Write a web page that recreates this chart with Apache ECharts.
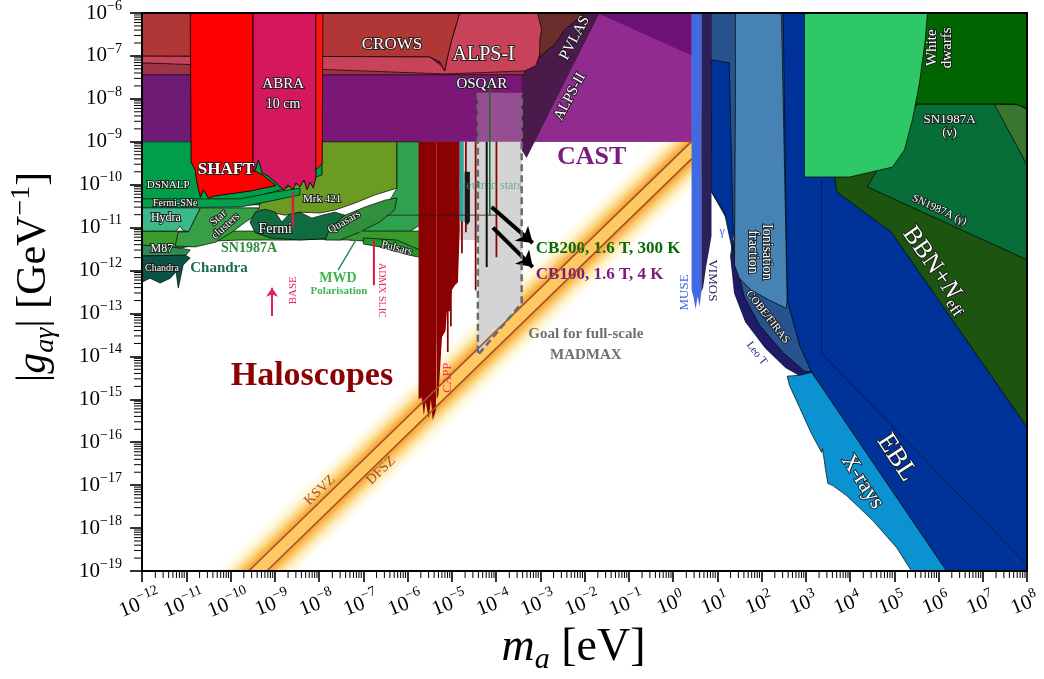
<!DOCTYPE html>
<html>
<head>
<meta charset="utf-8">
<script src="https://cdn.jsdelivr.net/npm/echarts/dist/echarts.min.js"></script>
<style>
  html, body { margin: 0; padding: 0; background: #fff; }
  #chart { width: 1044px; height: 679px; }
</style>
</head>
<body>
<div id="chart"></div>
<script>
const FONT = 'Liberation Serif';

// All coordinates are [log10(m_a / eV), log10(|g_ag| / GeV^-1)]
const M_RANGE = [-12, 8];
const G_RANGE = [-19, -6];

// ---------- helioscopes / light-shining-through-walls ----------
const CAST_BASE = [[-12,-9],[0.42,-9],[0.42,-6],[-12,-6]];
const CAST_MID = [[-7.93,-9],[-3.42,-9],[-3.42,-7.44],[-7.93,-7.44]];
const CAST_HI = [[-3.15,-9],[-1.66,-6],[0.42,-6],[0.42,-9]];
const CAST_TOP = [[-1.71,-6],[0.42,-6],[0.42,-6.99]];
const ALPS_II = [[-3.42,-7.44],[-2.90,-6.0],[-1.66,-6.0],[-3.31,-9.38],[-3.42,-9.19]];
const OSQAR = [[-12,-7.16],[-3.35,-7.16],[-3.35,-7.44],[-12,-7.44]];
const ALPS_I = [[-12,-7.0],[-5.50,-7.02],[-5.23,-7.23],[-5.16,-7.35],[-5.11,-7.09],[-5.0,-6.62],[-4.82,-6.0],[-2.83,-6.0],[-2.95,-6.39],[-3.01,-6.97],[-3.10,-7.23],[-3.35,-7.35],[-5.16,-7.42],[-12,-7.16]];
const CROWS = [[-12,-6],[-4.82,-6],[-5.0,-6.62],[-5.11,-7.09],[-5.16,-7.35],[-5.27,-7.14],[-5.50,-7.02],[-12,-7.0]];
const PVLAS = [[-3.06,-6],[-2.0,-6],[-2.22,-6.2],[-2.45,-6.39],[-2.56,-6.57],[-2.67,-6.74],[-2.83,-6.86],[-2.95,-6.97],[-3.01,-7.04],[-3.01,-6.62],[-2.97,-6.39]];

// ---------- low-mass haloscopes ----------
const SHAFT = [[-10.91,-6],[-9.49,-6],[-9.49,-9.66],[-9.28,-9.77],[-8.97,-10.02],[-9.56,-10.15],[-10.34,-10.26],[-10.50,-10.31],[-10.61,-10.12],[-10.68,-10.29],[-10.75,-10.0],[-10.80,-9.66],[-10.89,-9.47]];
const ABRA = [[-9.49,-6],[-8.07,-6],[-8.07,-9.84],[-8.13,-10.08],[-8.20,-9.94],[-8.27,-10.12],[-8.34,-9.89],[-8.43,-10.05],[-8.52,-9.96],[-8.59,-10.12],[-8.70,-10.0],[-8.79,-10.12],[-8.88,-10.05],[-8.99,-9.94],[-9.15,-9.80],[-9.28,-9.73],[-9.37,-9.42],[-9.44,-9.66],[-9.49,-9.70]];
const ABRA_RED = [[-8.07,-6],[-7.91,-6],[-7.93,-9.50],[-8.07,-9.66]];

// ---------- astrophysical bounds, low mass ----------
const DSNALP = [[-12,-9],[-7.93,-9],[-7.93,-10.47],[-12,-10.47]];
const MRK421 = [[-7.93,-9],[-6.24,-9],[-6.24,-10.08],[-6.74,-10.24],[-7.19,-10.43],[-7.64,-10.59],[-7.98,-10.66],[-8.43,-10.64],[-8.77,-10.71],[-9.10,-10.64],[-9.37,-10.59],[-9.28,-10.24],[-8.88,-10.12],[-7.93,-9.77]];
const HAWC = [[-6.24,-9],[-5.72,-9],[-5.72,-10.94],[-6.06,-11.17],[-6.63,-11.29],[-7.30,-11.29],[-7.52,-11.17],[-7.30,-10.87],[-6.74,-10.59],[-6.40,-10.36],[-6.24,-10.08]];
const SN1987A_BAND = [[-12,-11.08],[-5.72,-11.08],[-5.72,-11.52],[-6.18,-11.43],[-6.63,-11.34],[-7.30,-11.29],[-7.98,-11.27],[-8.66,-11.29],[-9.33,-11.29],[-9.78,-11.29],[-10.34,-11.31],[-10.68,-11.38],[-11.14,-11.48],[-11.48,-11.45],[-12,-11.41]];
const FERMI_SNE = [[-12,-10.33],[-9.78,-10.33],[-8.99,-10.17],[-8.43,-10.08],[-8.43,-10.24],[-9.33,-10.43],[-9.78,-10.52],[-12,-10.54]];
const HYDRA = [[-12,-10.54],[-10.68,-10.54],[-10.87,-10.94],[-10.95,-11.10],[-11.09,-11.05],[-11.14,-10.96],[-11.23,-11.08],[-12,-11.08]];
const STAR_CLUSTERS = [[-10.68,-10.54],[-9.37,-10.54],[-9.42,-10.71],[-9.66,-10.87],[-9.96,-11.10],[-10.34,-11.34],[-10.80,-11.45],[-11.25,-11.43],[-11.18,-11.10],[-10.95,-11.10],[-10.87,-10.94]];
const FERMI = [[-9.44,-10.64],[-9.22,-10.57],[-8.99,-10.64],[-8.84,-10.87],[-8.70,-10.71],[-8.43,-10.64],[-8.16,-10.78],[-7.93,-10.71],[-7.64,-10.64],[-7.41,-10.71],[-7.30,-11.01],[-7.52,-11.24],[-8.43,-11.29],[-9.10,-11.24],[-9.44,-11.12],[-9.56,-10.87]];
const QUASARS = [[-7.75,-11.01],[-7.41,-10.71],[-6.96,-10.52],[-6.51,-10.36],[-6.24,-10.31],[-6.29,-10.59],[-6.63,-10.87],[-7.07,-11.10],[-7.52,-11.29],[-7.86,-11.29]];
const PULSARS = [[-7.0,-11.24],[-6.24,-11.29],[-5.88,-11.45],[-5.72,-11.52],[-5.72,-11.69],[-5.88,-11.66],[-6.24,-11.52],[-7.0,-11.38]];
const M87 = [[-12,-11.41],[-11.48,-11.43],[-11.14,-11.48],[-10.91,-11.52],[-11.02,-11.66],[-12,-11.66]];
const CHANDRA = [[-12,-11.66],[-11.02,-11.64],[-10.91,-11.71],[-11.07,-11.87],[-11.18,-12.41],[-11.23,-12.03],[-11.36,-12.18],[-11.59,-12.29],[-11.82,-12.18],[-12,-12.27]];

// ---------- cavity haloscopes and MADMAX ----------
const NS_GRAY = [[-4.82,-9],[-3.42,-9],[-3.42,-12.76],[-4.41,-13.97],[-4.41,-11.29],[-4.82,-11.29]];
const MADMAX_TOP = [[-4.41,-7.86],[-3.42,-7.86],[-3.42,-9],[-4.41,-9]];
const MADMAX_GOAL = [[-4.41,-7.86],[-4.41,-13.97],[-3.42,-12.76],[-3.42,-7.86]];
const ADMX_MAIN = [[-5.75,-9],[-5.34,-9],[-5.34,-13.39],[-5.36,-15.26],[-5.43,-15.49],[-5.47,-15.0],[-5.52,-15.45],[-5.59,-15.05],[-5.63,-15.38],[-5.68,-14.96],[-5.75,-15.0]];
const HALO_COMB = [[-5.34,-9],[-4.82,-9],[-4.82,-11.05],[-4.86,-12.27],[-4.93,-12.34],[-5.0,-12.46],[-5.04,-12.95],[-5.11,-12.95],[-5.14,-13.40],[-5.22,-13.55],[-5.27,-14.40],[-5.30,-14.90],[-5.34,-15.0]];
const HALO_SPIKES = [[-4.77,-11.60],[-4.68,-11.11],[-4.46,-12.46],[-3.99,-11.69],[-5.09,-13.9],[-5.02,-13.3]];
const TEAL_STRIP = [[-4.82,-9],[-4.73,-9],[-4.73,-10.85],[-4.82,-10.85]];
const BLACK_STRIP = [[-4.71,-9.70],[-4.59,-9.70],[-4.59,-10.85],[-4.64,-10.94],[-4.71,-10.85]];
const NS_LINE = [[-4.21,-9],[-4.21,-11.92]];
const GREEN_TRACE = [[-4.14,-7.65],[-4.14,-10.71]];

// ---------- QCD axion band ----------
const KSVZ = [[-9.59,-19.0],[0.42,-8.99]];
const DFSZ = [[-9.18,-19.0],[0.42,-9.40]];
const BAND_UPPER = [[-10.4,-19.01],[0.9,-7.71]];
const BAND_LOWER = [[-8.4,-19.02],[0.9,-9.72]];

// ---------- high mass ----------
const MUSE = [[0.42,-6],[0.64,-6],[0.64,-12.5],[0.60,-12.85],[0.56,-12.6],[0.51,-12.9],[0.47,-12.65],[0.42,-12.45]];
const VIMOS = [[0.64,-6],[0.87,-6],[0.87,-11.2],[0.82,-11.5],[0.75,-11.9],[0.68,-12.4],[0.64,-12.5]];
const EBL = [[2.45,-6],[8,-6],[8,-19],[6.18,-19],[3.13,-14.37],[2.86,-13.85],[2.58,-13.16],[2.49,-8.02]];
const COBE = [[0.87,-6],[2.49,-6],[2.58,-12.69],[2.86,-13.74],[3.13,-14.37],[2.97,-14.35],[2.47,-13.90],[1.95,-13.27],[1.61,-12.62],[1.43,-11.87],[1.36,-11.06],[0.87,-10.17]];
const LEO_T = [[1.30,-11.66],[1.39,-12.53],[1.64,-13.20],[2.09,-13.81],[2.54,-14.26],[2.97,-14.51],[3.20,-14.51],[3.13,-14.37],[2.97,-14.35],[2.47,-13.90],[1.95,-13.27],[1.61,-12.62],[1.43,-11.87],[1.36,-11.29]];
const IONISATION = [[1.41,-6],[2.45,-6],[2.49,-8.02],[2.58,-12.69],[2.56,-12.88],[2.18,-12.69],[1.77,-12.46],[1.50,-12.18],[1.39,-11.87],[1.41,-8.02]];
const GAMMA = [[0.87,-7.09],[1.27,-7.16],[1.36,-11.06],[1.34,-11.52],[1.16,-10.64],[0.87,-10.17]];
const XRAYS = [[3.13,-14.37],[6.18,-19],[5.39,-19],[5.05,-18.45],[4.51,-17.82],[3.92,-17.24],[3.61,-17.01],[3.50,-16.96],[3.45,-16.66],[3.38,-16.15],[3.36,-16.24],[3.13,-15.80],[2.86,-15.19],[2.63,-14.67],[2.58,-14.46],[2.86,-14.44]];
const EBL_INNER = [[3.36,-9.89],[3.36,-13.93],[8,-18.86]];
const BBN = [[3.65,-9.82],[5.23,-9.42],[5.45,-8.12],[8,-8.12],[8,-15.65],[4.93,-11.10],[3.70,-10.17]];
const SN1987A_NU = [[5.52,-8.12],[7.29,-8.12],[8,-9.54],[8,-11.75],[4.39,-10.05]];
const SN_EDGE = [[7.26,-8.12],[7.83,-8.14],[8,-8.26],[8,-9.54]];
const WHITE_DWARFS = [[5.70,-6],[8,-6],[8,-8.21],[7.72,-8.12],[5.45,-8.12],[5.57,-7.63]];
const HB_STARS = [[2.97,-6],[5.75,-6],[5.70,-6.62],[5.57,-7.63],[5.41,-8.49],[5.23,-9.19],[4.96,-9.59],[3.99,-9.82],[2.97,-9.82]];

// ---------- markers ----------
const BASE_LINE = [[-8.59,-10.17],[-8.59,-11.0]];
const ADMX_SLIC_LINE = [[-6.76,-11.29],[-6.76,-12.34]];
const MWD_LINE = [[-7.57,-11.99],[-7.03,-11.05]];
const HAWC_EDGE = [[-6.47,-10.71],[-3.99,-10.71]];
const BASE_ARROW = [[-9.06,-13.06],[-9.06,-12.40]];
const ARROW_CB200 = [[-4.10,-10.52],[-3.17,-11.36]];
const ARROW_CB100 = [[-4.07,-11.0],[-3.17,-11.92]];

// ---------- text annotations ----------
const LABELS = [
  {t:'CROWS', at:[-6.35,-6.74], s:17},
  {t:'ALPS-I', at:[-4.28,-6.97], s:20},
  {t:'OSQAR', at:[-4.32,-7.65], s:15},
  {t:'PVLAS', at:[-2.22,-6.58], s:15, rot:62},
  {t:'ALPS-II', at:[-2.33,-7.95], s:15, rot:62},
  {t:'CAST', at:[-1.84,-9.36], s:26, b:1, c:'#7B1B7D'},
  {t:'ABRA', at:[-8.81,-7.65], s:15},
  {t:'10 cm', at:[-8.81,-8.12], s:14},
  {t:'SHAFT', at:[-10.10,-9.66], s:17, b:1},
  {t:'DSNALP', at:[-11.41,-10.0], s:11},
  {t:'Fermi-SNe', at:[-11.25,-10.43], s:10},
  {t:'Hydra', at:[-11.46,-10.78], s:12},
  {t:'Star\nclusters', at:[-10.19,-10.87], s:11, rot:42},
  {t:'Fermi', at:[-8.99,-11.03], s:14},
  {t:'Mrk 421', at:[-7.93,-10.33], s:11},
  {t:'Quasars', at:[-7.43,-10.87], s:11, rot:30},
  {t:'HAWC', at:[-6.67,-10.68], s:12, c:'rgba(70,150,90,0.55)'},
  {t:'Pulsars', at:[-6.24,-11.48], s:11, rot:-15},
  {t:'M87', at:[-11.55,-11.50], s:12},
  {t:'Chandra', at:[-11.55,-11.94], s:10},
  {t:'Chandra', at:[-10.26,-11.94], s:15, b:1, c:'#1D6B50'},
  {t:'SN1987A', at:[-9.58,-11.48], s:14, b:1, c:'#2E8B40'},
  {t:'MWD', at:[-7.57,-12.18], s:14, b:1, c:'#3CB44B'},
  {t:'Polarisation', at:[-7.55,-12.48], s:11, b:1, c:'#3CB44B'},
  {t:'BASE', at:[-8.59,-12.46], s:11, rot:90, c:'#E0245E'},
  {t:'ADMX SLIC', at:[-6.58,-12.46], s:10, rot:-90, c:'#E0245E'},
  {t:'CAPP', at:[-5.09,-14.50], s:12, rot:90, c:'#FF2D55'},
  {t:'Haloscopes', at:[-8.16,-14.47], s:34, b:1, c:'#8B0000'},
  {t:'KSVZ', at:[-7.98,-17.12], s:14, rot:44, c:'#A0522D'},
  {t:'DFSZ', at:[-6.60,-16.66], s:14, rot:44, c:'#A0522D'},
  {t:'Goal for full-scale', at:[-1.97,-13.49], s:15, b:1, c:'#707070'},
  {t:'MADMAX', at:[-1.97,-13.97], s:15, b:1, c:'#707070'},
  {t:'CB200, 1.6 T, 300 K', at:[-3.10,-11.48], s:17, b:1, c:'#0B6B0B', align:'left'},
  {t:'CB100, 1.6 T, 4 K', at:[-3.10,-12.09], s:17, b:1, c:'#7B1B7D', align:'left'},
  {t:'Neutron stars', at:[-4.14,-10.03], s:12, c:'rgba(70,160,110,0.75)'},
  {t:'MUSE', at:[0.26,-12.51], s:13, rot:90, c:'#4169E1'},
  {t:'VIMOS', at:[0.89,-12.23], s:13, rot:-90, c:'#2B2158'},
  {t:'γ', at:[1.11,-11.10], s:12, c:'#4169E1'},
  {t:'Ionisation\nfraction', at:[1.95,-11.57], s:14, rot:-90},
  {t:'COBE/FIRAS', at:[2.14,-13.08], s:11, rot:-52},
  {t:'Leo T', at:[1.89,-13.93], s:11, rot:-52, c:'#1F1F7A'},
  {t:'X-rays', at:[4.28,-16.92], s:22, rot:-57},
  {t:'EBL', at:[5.05,-16.36], s:27, rot:-57},
  {t:'{a|BBN+}{i|N}{s|eff}', at:[5.95,-11.99], s:25, rot:-55, rich:true},
  {t:'SN1987A (γ)', at:[6.02,-10.59], s:11, rot:-25},
  {t:'SN1987A\n(ν)', at:[6.25,-8.63], s:13},
  {t:'White\ndwarfs', at:[6.02,-6.81], s:15, rot:90}
];

// Sutherland-Hodgman clipping of a pixel polygon to the plot rectangle
function clipPoly(pts, r) {
  const planes = [[0, r.x, 1], [0, r.x + r.width, -1], [1, r.y, 1], [1, r.y + r.height, -1]];
  let out = pts;
  for (const [k, v, s] of planes) {
    const inp = out; out = [];
    if (!inp.length) break;
    for (let i = 0; i < inp.length; i++) {
      const a = inp[i], b = inp[(i + 1) % inp.length];
      const ina = s * (a[k] - v) >= 0, inb = s * (b[k] - v) >= 0;
      if (ina) out.push(a);
      if (ina !== inb) {
        const t = (v - a[k]) / (b[k] - a[k]);
        out.push([a[0] + t * (b[0] - a[0]), a[1] + t * (b[1] - a[1])]);
      }
    }
  }
  return out;
}

const EDGE = 'rgba(0,0,0,0.85)';
function poly(pts, fill, stroke = true, lw = 0.8) {
  return {
    type: 'custom', silent: true, data: pts,
    renderItem: (params, api) => {
      if (params.dataIndex !== 0) return null;
      const pix = clipPoly(pts.map(p => api.coord(p)), params.coordSys);
      if (pix.length < 3) return null;
      return { type: 'polygon', shape: { points: pix },
        style: { fill, stroke: stroke ? EDGE : null, lineWidth: stroke ? lw : 0 } };
    }
  };
}
function seg(pts, color, width, type = 'solid') {
  return { type: 'line', data: pts, symbol: 'none', showSymbol: false, silent: true,
    lineStyle: { color, width, type }, z: 2 };
}
function spikeRects(list, halfWidth) {
  return list.map(([m, g]) => [[m - halfWidth, -9], [m + halfWidth, -9], [m + halfWidth, g], [m - halfWidth, g]]);
}

// QCD band drawn with a gradient running across the band
const bandSeries = {
  type: 'custom', silent: true, data: BAND_UPPER,
  renderItem: (params, api) => {
    if (params.dataIndex !== 0) return null;
    const a = api.coord(BAND_UPPER[0]), b = api.coord(BAND_UPPER[1]);
    const c = api.coord(BAND_LOWER[0]);
    const dx = b[0] - a[0], dy = b[1] - a[1], L = Math.hypot(dx, dy);
    const nx = -dy / L, ny = dx / L;
    const dist = (c[0] - a[0]) * nx + (c[1] - a[1]) * ny;
    const k1 = 0.8 / 2.01, k2 = 1.21 / 2.01;
    const grad = new echarts.graphic.LinearGradient(a[0], a[1], a[0] + nx * dist, a[1] + ny * dist, [
      { offset: 0, color: 'rgba(255,250,230,0)' },
      { offset: 0.15, color: 'rgba(255,238,180,0.55)' },
      { offset: 0.28, color: 'rgba(252,205,110,0.9)' },
      { offset: k1 - 0.04, color: '#F9AE42' },
      { offset: k1, color: '#F7A535' },
      { offset: k1 + 0.02, color: '#FFC863' },
      { offset: k2 - 0.02, color: '#FFC863' },
      { offset: k2, color: '#F7A535' },
      { offset: k2 + 0.04, color: '#F9AE42' },
      { offset: 0.72, color: 'rgba(252,205,110,0.9)' },
      { offset: 0.85, color: 'rgba(255,238,180,0.55)' },
      { offset: 1, color: 'rgba(255,250,230,0)' }
    ], true);
    const pts = [BAND_UPPER[0], BAND_UPPER[1], BAND_LOWER[1], BAND_LOWER[0]].map(p => api.coord(p));
    return { type: 'polygon', shape: { points: clipPoly(pts, params.coordSys) }, style: { fill: grad } };
  }
};

// text annotations in data coordinates
const labelSeries = {
  type: 'custom', silent: true, data: LABELS.map(l => l.at),
  renderItem: (params, api) => {
    const L = LABELS[params.dataIndex];
    const p = api.coord(L.at);
    const fill = L.c || '#fff';
    const outline = !L.c;
    const font = `${L.b ? 'bold ' : ''}${L.s}px "${FONT}"`;
    const style = {
      text: L.t, fill, font, align: L.align || 'center', verticalAlign: 'middle',
      lineHeight: Math.round(L.s * 1.0)
    };
    if (outline) { style.stroke = 'rgba(25,25,25,0.9)'; style.lineWidth = 2; }
    if (L.rich) {
      const base = { fill, stroke: 'rgba(25,25,25,0.9)', lineWidth: 2, fontFamily: FONT };
      style.rich = {
        a: Object.assign({ fontSize: L.s, lineHeight: L.s + 6, verticalAlign: 'middle' }, base),
        i: Object.assign({ fontSize: L.s, fontStyle: 'italic', lineHeight: L.s + 6, verticalAlign: 'middle' }, base),
        s: Object.assign({ fontSize: Math.round(L.s * 0.62), lineHeight: Math.round(L.s * 0.62), verticalAlign: 'bottom' }, base)
      };
    }
    return { type: 'text', x: p[0], y: p[1], rotation: (L.rot || 0) * Math.PI / 180, style };
  }
};

// log-spaced minor ticks along both axes
const MINOR_X = [], MINOR_Y = [], MAJOR_X = [];
for (let d = M_RANGE[0]; d < M_RANGE[1]; d++) for (let k = 2; k < 10; k++) MINOR_X.push([d + Math.log10(k), G_RANGE[0]]);
for (let d = G_RANGE[0]; d < G_RANGE[1]; d++) for (let k = 2; k < 10; k++) MINOR_Y.push([M_RANGE[0], d + Math.log10(k)]);
for (let d = M_RANGE[0]; d <= M_RANGE[1]; d++) MAJOR_X.push([d, G_RANGE[0]]);
const minorTicks = (data, horizontal) => ({
  type: 'custom', silent: true, data, z: 12,
  renderItem: (params, api) => {
    const p = api.coord([api.value(0), api.value(1)]);
    const shape = horizontal ? { x1: p[0], y1: p[1], x2: p[0], y2: p[1] + 7 }
                             : { x1: p[0], y1: p[1], x2: p[0] - 8, y2: p[1] };
    return { type: 'line', shape, style: { stroke: '#000', lineWidth: 1 } };
  }
});

const expText = v => {
  const n = Math.round(v);
  return `{b|10}{s|${n < 0 ? '−' + Math.abs(n) : n}}`;
};
const TICK_RICH = {
  b: { fontSize: 21, fontFamily: FONT, color: '#000', lineHeight: 28, verticalAlign: 'middle' },
  s: { fontSize: 14, fontFamily: FONT, color: '#000', lineHeight: 14, verticalAlign: 'top' }
};
const TICK_RICH_ZR = {
  b: { fontSize: 21, fontFamily: FONT, fill: '#000', lineHeight: 28, verticalAlign: 'middle' },
  s: { fontSize: 14, fontFamily: FONT, fill: '#000', lineHeight: 14, verticalAlign: 'top' }
};
// slanted mass-axis tick labels, one per decade
const xTickLabels = {
  type: 'custom', silent: true, data: MAJOR_X, z: 12,
  renderItem: (params, api) => {
    const p = api.coord([api.value(0), api.value(1)]);
    return {
      type: 'text', x: p[0] - 2, y: p[1] + 33, rotation: 22 * Math.PI / 180,
      style: { text: expText(api.value(0)), rich: TICK_RICH_ZR, align: 'center', verticalAlign: 'middle', fill: '#000' }
    };
  }
};

const NAME_RICH = {
  n: { fontSize: 42, fontFamily: FONT, color: '#000', lineHeight: 52, verticalAlign: 'middle' },
  i: { fontSize: 42, fontFamily: FONT, fontStyle: 'italic', color: '#000', lineHeight: 52, verticalAlign: 'middle' },
  si: { fontSize: 28, fontFamily: FONT, fontStyle: 'italic', color: '#000', lineHeight: 30, verticalAlign: 'bottom' },
  sp: { fontSize: 28, fontFamily: FONT, color: '#000', lineHeight: 30, verticalAlign: 'top' }
};
const XNAME_RICH = {
  n: { fontSize: 46, fontFamily: FONT, color: '#000', lineHeight: 54, verticalAlign: 'middle' },
  i: { fontSize: 46, fontFamily: FONT, fontStyle: 'italic', color: '#000', lineHeight: 54, verticalAlign: 'middle' },
  si: { fontSize: 30, fontFamily: FONT, fontStyle: 'italic', color: '#000', lineHeight: 32, verticalAlign: 'bottom' }
};

const axisLine = { show: true, onZero: false, lineStyle: { color: '#000', width: 2 } };

const series = [
  bandSeries,
  seg(KSVZ, '#A0522D', 1.6),
  seg(DFSZ, '#A0522D', 1.6),
  poly(CAST_BASE, '#6E1A74', false),
  poly(CAST_MID, '#7B1777', false),
  poly(CAST_HI, '#922B8F', false),
  poly(CAST_TOP, '#6C1279', false),
  poly(ALPS_II, '#4A1A4B', false),
  poly(OSQAR, '#9C3445'),
  poly(ALPS_I, '#C8435A'),
  poly(CROWS, '#B13636'),
  poly(PVLAS, '#6B2C2C'),
  poly(NS_GRAY, '#D4D4D4', false),
  poly(MADMAX_TOP, 'rgba(205,205,205,0.3)', false),
  poly(DSNALP, '#009E49'),
  poly(MRK421, '#6B9B23'),
  poly(HAWC, '#2FA24F'),
  poly(SN1987A_BAND, '#3C9B2D'),
  poly(FERMI_SNE, '#05A04C'),
  poly(HYDRA, '#3DB88B'),
  poly(STAR_CLUSTERS, '#37A047'),
  poly(FERMI, '#0E6C3E'),
  poly(QUASARS, '#2F8F3A'),
  poly(PULSARS, '#1F9A2E'),
  poly(M87, '#2E8B57'),
  poly(CHANDRA, '#0B5345'),
  poly(SHAFT, '#FF0000', true, 1),
  poly(ABRA, '#D5175E', true, 1),
  poly(ABRA_RED, '#FF1414'),
  poly(ADMX_MAIN, '#8B0000', false),
  poly(HALO_COMB, '#8B0000', false),
  ...spikeRects(HALO_SPIKES, 0.02).map(r => poly(r, '#8B0000', false)),
  poly(TEAL_STRIP, '#2AA5A0', false),
  poly(BLACK_STRIP, '#151515', false),
  seg(NS_LINE, '#111', 2),
  seg(GREEN_TRACE, '#1B6E20', 1.5),
  seg(HAWC_EDGE, '#222', 0.8),
  seg(MADMAX_GOAL, '#6B6B6B', 2.5, [7, 4]),
  poly(EBL, '#003399'),
  poly(COBE, '#27548F'),
  poly(LEO_T, '#1E1C6A'),
  poly(IONISATION, '#4682B4'),
  poly(GAMMA, '#003399'),
  poly(XRAYS, '#0A93D0'),
  seg(EBL_INNER, 'rgba(10,20,70,0.85)', 1),
  poly(BBN, '#1C5410'),
  poly(SN1987A_NU, '#076E37'),
  poly(SN_EDGE, '#3A7632'),
  poly(WHITE_DWARFS, '#006400'),
  poly(HB_STARS, '#2EC866'),
  poly(MUSE, '#4169E1', false),
  poly(VIMOS, '#2B2159', false),
  seg(BASE_LINE, '#C8234A', 2.5),
  seg(ADMX_SLIC_LINE, '#DC143C', 2),
  seg(MWD_LINE, '#2E8B57', 1.5),
  {
    type: 'lines', coordinateSystem: 'cartesian2d', silent: true,
    data: [{ coords: ARROW_CB200 }, { coords: ARROW_CB100 }],
    symbol: ['none', 'arrow'], symbolSize: 15,
    lineStyle: { color: '#000', width: 4, opacity: 1 }
  },
  {
    type: 'lines', coordinateSystem: 'cartesian2d', silent: true,
    data: [{ coords: BASE_ARROW }],
    symbol: ['none', 'arrow'], symbolSize: 9,
    lineStyle: { color: '#E0245E', width: 2, opacity: 1 }
  },
  labelSeries,
  minorTicks(MINOR_X, true),
  minorTicks(MINOR_Y, false),
  xTickLabels
];

const option = {
  animation: false,
  backgroundColor: '#fff',
  textStyle: { fontFamily: FONT },
  grid: { left: 142, right: 17, top: 13, bottom: 108, containLabel: false, outerBoundsMode: 'none' },
  xAxis: [{
    type: 'value', min: M_RANGE[0], max: M_RANGE[1], interval: 1, position: 'bottom', z: 10,
    axisLine, splitLine: { show: false },
    axisTick: { show: true, length: 11, lineStyle: { color: '#000', width: 1.6 } },
    axisLabel: { show: false },
    name: '{i|m}{si|a}{n| [eV]}', nameLocation: 'middle', nameGap: 50,
    nameTextStyle: { rich: XNAME_RICH, padding: [0, 22, 0, 0] }
  }, {
    type: 'value', min: M_RANGE[0], max: M_RANGE[1], position: 'top', z: 10,
    axisLine, axisTick: { show: false }, axisLabel: { show: false }, splitLine: { show: false }
  }],
  yAxis: [{
    type: 'value', min: G_RANGE[0], max: G_RANGE[1], interval: 1, position: 'left', z: 10,
    axisLine, splitLine: { show: false },
    axisTick: { show: true, length: 12, lineStyle: { color: '#000', width: 1.6 } },
    axisLabel: { formatter: expText, margin: 20, rich: TICK_RICH, showMinLabel: true, showMaxLabel: true },
    name: '{n||}{i|g}{si|aγ}{n|| [GeV}{sp|−1}{n|]}', nameLocation: 'middle', nameGap: 82,
    nameRotate: 90, nameTextStyle: { rich: NAME_RICH, padding: [0, 0, 0, 30] }
  }, {
    type: 'value', min: G_RANGE[0], max: G_RANGE[1], position: 'right', z: 10,
    axisLine, axisTick: { show: false }, axisLabel: { show: false }, splitLine: { show: false }
  }],
  series
};

const chart = echarts.init(document.getElementById('chart'), null, { renderer: 'canvas' });
chart.setOption(option);
</script>
</body>
</html>
